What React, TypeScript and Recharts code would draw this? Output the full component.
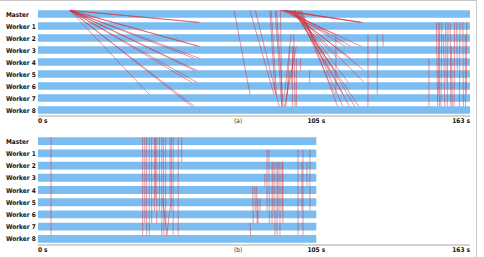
import React from "react";
import {
  ComposedChart,
  XAxis,
  YAxis,
  ReferenceArea,
  Scatter,
} from "recharts";

const ROWS = ["Master", "Worker 1", "Worker 2", "Worker 3", "Worker 4", "Worker 5", "Worker 6", "Worker 7", "Worker 8"];
const TIME_TICKS = [0, 105, 163];
const TICK_LABELS = ["0 s", "105 s", "163 s"];
const PANEL_LABEL_AT = 75.5;

// how long each process bar runs (seconds)
const RUN_END_A = 163;
const RUN_END_B = 105;

// messages: [fromRow, sendTime, toRow, recvTime]
type Msg = [number, number, number, number];

const MSGS_A: Msg[] = [
  // first broadcast from master
  [0, 12, 1, 61], [0, 12.3, 1, 60.5], [0, 12, 3, 61], [0, 12.4, 3, 60.5],
  [0, 12, 4, 61], [0, 12.2, 4, 59], [0, 12, 5, 60], [0, 12.5, 5, 59],
  [0, 12, 6, 60], [0, 12.3, 6, 58], [0, 12, 7, 42], [0, 12, 8, 59], [0, 12.4, 8, 58],
  // middle burst
  [0, 74, 7, 80], [0, 80, 7, 89], [0, 82, 8, 91], [0, 87.5, 7, 89.5], [0, 88, 7, 90],
  [0, 89.5, 8, 92], [0, 90, 8, 92.5], [0, 91.5, 8, 92], [3, 97.5, 8, 93], [3, 96, 8, 96],
  [2, 95.5, 7, 93], [3, 96.5, 6, 95.5], [4, 97.5, 8, 97.5], [2, 96.5, 8, 97],
  [4, 99, 5, 99], [5, 102.5, 6, 102.5], [5, 95, 8, 93.5], [3, 95, 7, 94],
  // second broadcast
  [0, 91, 1, 122], [0, 92, 1, 122.5], [0, 93, 1, 121.5],
  [0, 92, 2, 110], [0, 93, 2, 112],
  [0, 93, 3, 122], [0, 94, 3, 116], [0, 95, 3, 118],
  [0, 94, 4, 118], [0, 95, 4, 113],
  [0, 95, 5, 123], [0, 96, 5, 112], [0, 96.5, 5, 110],
  [0, 96, 6, 123], [0, 97, 6, 117],
  [0, 97, 7, 115], [0, 98, 7, 112],
  [0, 97, 8, 121], [0, 98, 8, 119.5], [0, 98.5, 8, 117.5], [0, 99, 8, 115], [0, 99.5, 8, 113],
  [2, 112.4, 7, 112.4], [2, 124.5, 8, 124.5], [2, 128, 7, 128], [2, 130, 3, 130.3],
  // final exchange
  [4, 147.5, 8, 147.5],
  [1, 150.3, 8, 150.8], [1, 151, 8, 151.5], [1, 151.6, 7, 151.2], [1, 152.4, 8, 152],
  [2, 153, 8, 153.5], [1, 153.8, 6, 154], [1, 154.7, 8, 154.4], [1, 155.5, 8, 155.8],
  [3, 156, 8, 156.3], [1, 157.2, 8, 157], [1, 158, 5, 158.2], [1, 159.2, 8, 159],
  [1, 160.3, 8, 160.5], [2, 161.2, 8, 161.3], [1, 161.8, 7, 161.6],
];

const MSGS_B: Msg[] = [
  [0, 4.9, 8, 4.9],
  [0, 39.5, 8, 39.5], [0, 41, 8, 41], [0, 42, 8, 42], [0, 42.9, 7, 42.9],
  [0, 43.9, 6, 43.9], [0, 44.8, 7, 44.8], [0, 45.8, 6, 45.8], [0, 46.7, 8, 46.7],
  [0, 47.3, 8, 47.5], [5, 47, 8, 48.6], [8, 48.6, 5, 50.3], [0, 48.2, 7, 48.2],
  [0, 49.8, 5, 49.8], [0, 51, 8, 51], [0, 52.9, 8, 52.9], [0, 54.2, 2, 54.2],
  [0, 50.3, 6, 50.3], [0, 44.3, 5, 44.3], [0, 40.3, 7, 40.3],
  [7, 80, 8, 80.2], [4, 81, 7, 81.2], [4, 81.8, 6, 82], [4, 82.5, 7, 82.7],
  [5, 83, 7, 83], [5, 83.8, 6, 83.8], [3, 85.6, 4, 85.6], [1, 86.4, 6, 86.4],
  [1, 87.1, 7, 87.3], [2, 88.3, 7, 88.3], [2, 88.7, 6, 88.7], [2, 89.4, 8, 89.4],
  [2, 90.2, 8, 90.2], [2, 90.6, 6, 90.6], [2, 91.3, 8, 91.3], [2, 92.1, 6, 92.1],
  [2, 92.4, 7, 92.4], [1, 98.1, 8, 98.1], [2, 99.6, 6, 99.6], [1, 100, 8, 100],
  [2, 101.5, 4, 101.5], [1, 102.6, 6, 102.6],
];

const BLUE = "#7bbdf1";
const RED = "#d8262e";
const FONT = "'DejaVu Sans Condensed', 'DejaVu Sans', sans-serif";
const BAND = 0.32;
const LIFT = 0.3; // messages attach at the top edge of a bar

const RowTick = (props: any) => (
  <text x={6} y={props.y} dy={2.5} fontSize={6.5} fontWeight="bold" fontFamily={FONT} fill="#111">
    {ROWS[props.payload.value]}
  </text>
);

const timeTick = (panel: string) => (props: any) => {
  const v = props.payload.value;
  const label = v === PANEL_LABEL_AT ? panel : TICK_LABELS[TIME_TICKS.indexOf(v)];
  const anchor = v === 0 ? "start" : v === 163 ? "end" : "middle";
  return (
    <text
      x={props.x}
      y={props.y}
      dy={6.5}
      textAnchor={anchor}
      fontSize={6.5}
      fontWeight={v === PANEL_LABEL_AT ? "normal" : "bold"}
      fontFamily={FONT}
      fill={v === PANEL_LABEL_AT ? "#333" : "#111"}
    >
      {label}
    </text>
  );
};

const noDot = () => <g />;

function Panel({ msgs, runEnd, panel, height, top }: { msgs: Msg[]; runEnd: number; panel: string; height: number; top: number }) {
  const rowData = ROWS.map((_, i) => ({ t: 0, r: i }));
  return (
    <ComposedChart width={484} height={height} data={rowData} margin={{ top, right: 14, bottom: 0, left: 0 }}>
      <XAxis
        type="number"
        dataKey="t"
        domain={[0, 163]}
        allowDataOverflow
        ticks={[0, PANEL_LABEL_AT, 105, 163]}
        interval={0}
        height={12}
        tickSize={0}
        tickMargin={0}
        tickLine={false}
        axisLine={{ stroke: "#a8a8a8" }}
        tick={timeTick(panel)}
      />
      <YAxis
        type="number"
        dataKey="r"
        reversed
        domain={[-0.5, 8.5]}
        allowDataOverflow
        ticks={ROWS.map((_, i) => i)}
        interval={0}
        width={38}
        tickLine={false}
        axisLine={false}
        tick={(p: any) => <RowTick {...p} />}
      />
      {ROWS.map((_, i) => (
        <ReferenceArea
          key={"b" + i}
          x1={0}
          x2={runEnd}
          y1={i - BAND}
          y2={i + BAND}
          fill={BLUE}
          fillOpacity={1}
          stroke="none"
          ifOverflow="visible"
        />
      ))}
      {msgs.map((m, i) => (
        <Scatter
          key={"m" + i}
          data={[
            { t: m[1], r: m[0] - LIFT },
            { t: m[3], r: m[2] - LIFT },
          ]}
          dataKey="r"
          line={{ stroke: RED, strokeWidth: 0.8, strokeOpacity: 0.6 }}
          shape={noDot}
          isAnimationActive={false}
        />
      ))}
    </ComposedChart>
  );
}

export default function App() {
  return (
    <div style={{ position: "absolute", left: 0, top: 0, width: 484, height: 257, background: "#fff" }}>
      <div
        style={{
          position: "absolute",
          left: 0,
          top: 0,
          width: 476,
          height: 256,
          borderTop: "1px solid #c8c8c8",
          borderRight: "1px solid #c8c8c8",
        }}
      />
      <div style={{ position: "absolute", left: 0, top: 0 }}>
        <Panel msgs={MSGS_A} runEnd={RUN_END_A} panel="(a)" height={128} top={8} />
      </div>
      <div style={{ position: "absolute", left: 0, top: 128 }}>
        <Panel msgs={MSGS_B} runEnd={RUN_END_B} panel="(b)" height={129} top={7} />
      </div>
    </div>
  );
}
